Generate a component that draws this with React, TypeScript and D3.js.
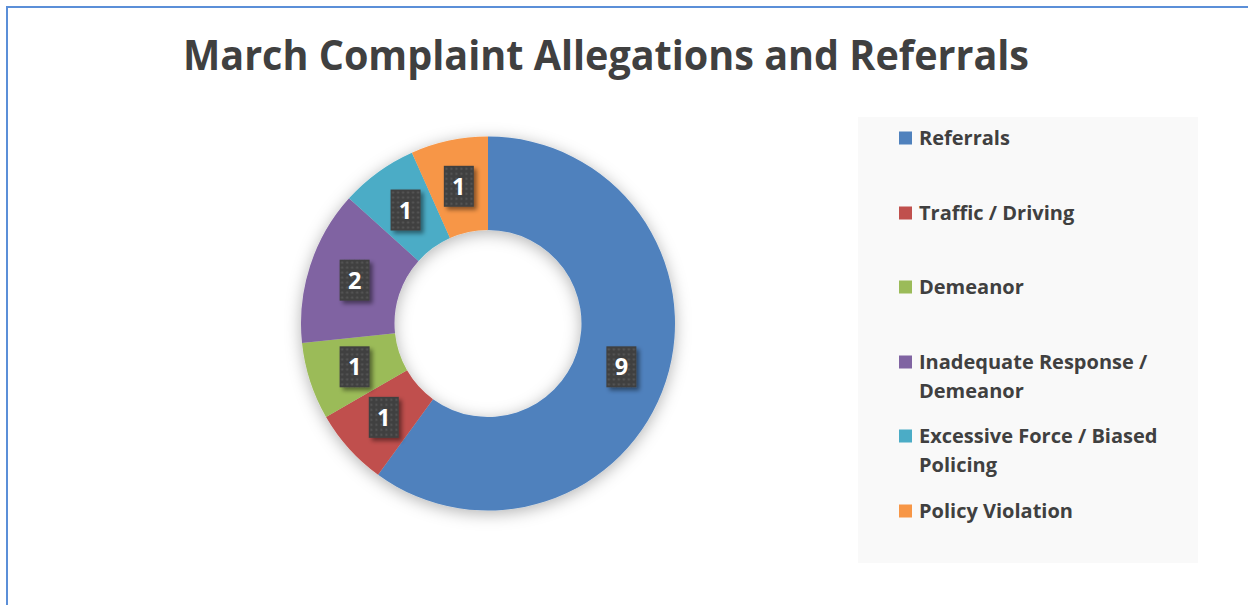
import React from "react";
import * as d3 from "d3";

const categories = [
  "Referrals",
  "Traffic / Driving",
  "Demeanor",
  "Inadequate Response / Demeanor",
  "Excessive Force / Biased Policing",
  "Policy Violation",
];
const values = [9, 1, 1, 2, 1, 1];
const colors = ["#4f81bd", "#c0504d", "#9bbb59", "#8064a2", "#4bacc6", "#f79646"];
const legendLines = [
  ["Referrals"],
  ["Traffic / Driving"],
  ["Demeanor"],
  ["Inadequate Response /", "Demeanor"],
  ["Excessive Force / Biased", "Policing"],
  ["Policy Violation"],
];
const title = "March Complaint Allegations and Referrals";

const W = 1248;
const H = 605;
const cx = 488;
const cy = 323.5;
const outerR = 187;
const innerR = 93.5;
const FONT = "'Open Sans', 'DejaVu Sans', sans-serif";

export default function App() {
  const data = categories.map((c, i) => ({ name: c, value: values[i], color: colors[i] }));
  const pie = d3.pie<any>().value((d: any) => d.value).sort(null).startAngle(0).endAngle(2 * Math.PI);
  const arcs = pie(data);
  const arcGen = d3.arc<any>().innerRadius(innerR).outerRadius(outerR);

  const legendX = 858;
  const legendY = 117;
  const legendW = 340;
  const legendH = 446;
  const rowY = [138, 213, 287, 362, 436, 511];

  return (
    <svg
      width={W}
      height={H}
      style={{ position: "absolute", left: 0, top: 0, background: "#fff" }}
      fontFamily={FONT}
    >
      <defs>
        <filter id="ringShadow" x="-20%" y="-20%" width="140%" height="140%">
          <feDropShadow dx="0" dy="3" stdDeviation="8" floodColor="#000" floodOpacity="0.3" />
        </filter>
        <filter id="lblShadow" x="-30%" y="-30%" width="170%" height="170%">
          <feDropShadow dx="3" dy="3" stdDeviation="2" floodColor="#000" floodOpacity="0.45" />
        </filter>
        <pattern id="dots" width="5" height="5" patternUnits="userSpaceOnUse">
          <rect width="5" height="5" fill="#3f3f3f" />
          <rect x="1.5" y="1.5" width="2" height="2" fill="#595959" />
        </pattern>
      </defs>

      <rect x={7} y={7} width={W + 10} height={H + 10} fill="#fff" stroke="#5b8fd8" strokeWidth={2} />

      <text
        x={606}
        y={70}
        textAnchor="middle"
        fontSize={42}
        fontWeight={700}
        fill="#404040"
        textLength={846}
        lengthAdjust="spacingAndGlyphs"
      >
        {title}
      </text>

      <g transform={`translate(${cx},${cy})`}>
        <g filter="url(#ringShadow)">
          {arcs.map((a, i) => (
            <path key={i} d={arcGen(a) as string} fill={a.data.color} />
          ))}
        </g>
        {arcs.map((a, i) => {
          const [x, y] = arcGen.centroid(a);
          const bw = 30;
          const bh = 41;
          return (
            <g key={"l" + i} transform={`translate(${x},${y})`}>
              <rect
                x={-bw / 2}
                y={-bh / 2}
                width={bw}
                height={bh}
                fill="url(#dots)"
                filter="url(#lblShadow)"
              />
              <text
                x={0}
                y={8.5}
                textAnchor="middle"
                fontSize={23.5}
                fontWeight={700}
                fill="#ffffff"
              >
                {a.data.value}
              </text>
            </g>
          );
        })}
      </g>

      <rect x={legendX} y={legendY} width={legendW} height={legendH} fill="#f9f9f9" />
      {legendLines.map((lines, i) => (
        <g key={"lg" + i}>
          <rect x={899} y={rowY[i] - 6.5} width={13} height={13} fill={colors[i]} />
          {lines.map((ln, j) => (
            <text
              key={j}
              x={919}
              y={rowY[i] + 7 + j * 29}
              fontSize={20}
              fontWeight={700}
              fill="#404040"
            >
              {ln}
            </text>
          ))}
        </g>
      ))}
    </svg>
  );
}
